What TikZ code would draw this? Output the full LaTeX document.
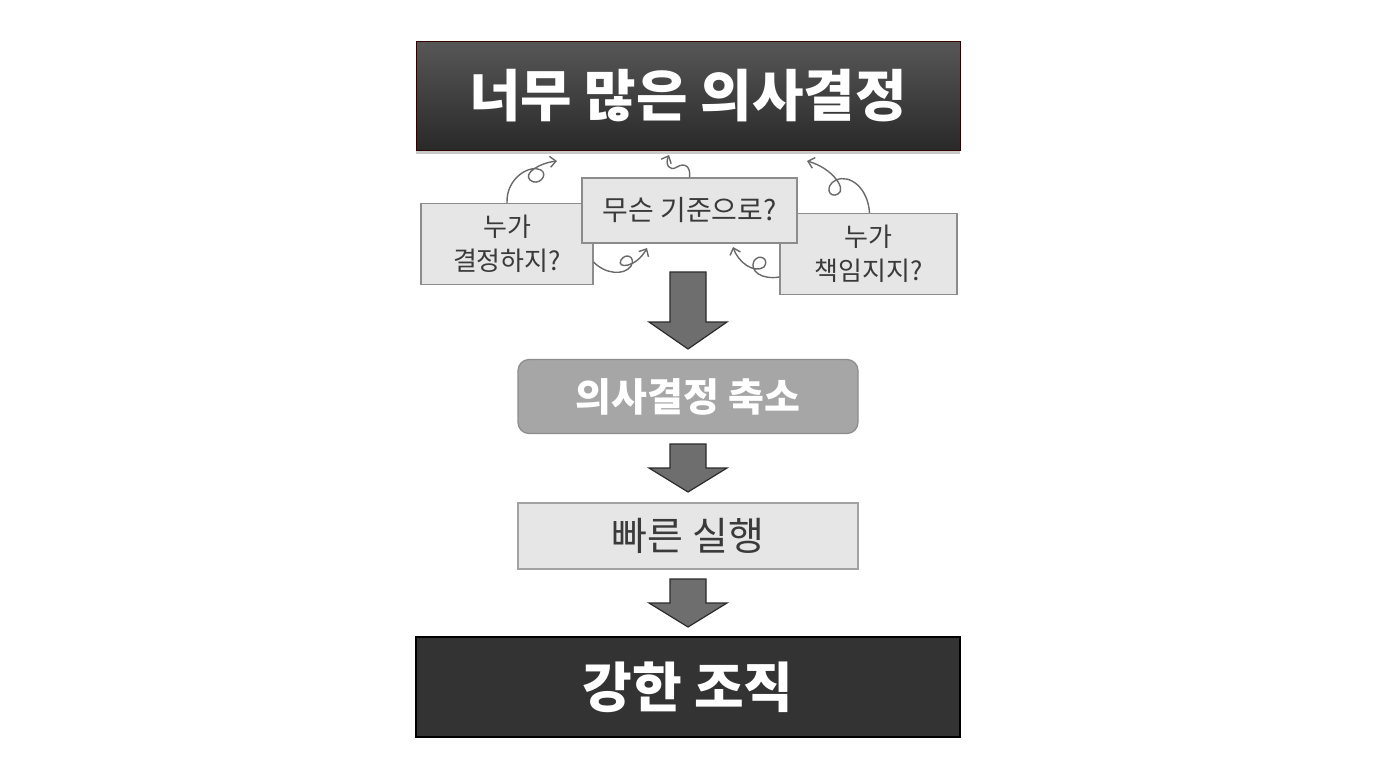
\documentclass[tikz,border=0pt]{standalone}
\usepackage{fontspec}
\newfontfamily\kr{Noto Sans CJK KR}
\usetikzlibrary{arrows.meta,shadows,calc}
\definecolor{boxfill}{HTML}{E6E6E6}
\definecolor{boxline}{HTML}{8C8C8C}
\definecolor{txt}{HTML}{3A3A3A}
\definecolor{curl}{HTML}{6A6A6A}
\definecolor{arrfill}{HTML}{6E6E6E}
\definecolor{arrline}{HTML}{2B2B2B}
\definecolor{darkbox}{HTML}{333333}
\definecolor{midbox}{HTML}{A6A6A6}
\tikzset{
  qbox/.style={draw=boxline, line width=1.2pt, fill=boxfill, text=txt, font=\kr\fontsize{26}{34}\selectfont, align=center, inner sep=0pt},
  curlarrow/.style={draw=curl, line width=1.4pt, -{Straight Barb[length=6pt,width=11pt]}},
  blockarrow/.style={fill=arrfill, draw=arrline, line width=1.2pt, line join=miter},
}
\begin{document}
\begin{tikzpicture}[x=1pt,y=-1pt]
\useasboundingbox (0,0) rectangle (1376,768);
\fill[white] (0,0) rectangle (1376,768);

% title
\node[minimum width=544pt, minimum height=109pt, inner sep=0pt,
      top color=black!66, bottom color=black!84, draw=black!70!red!60!black, line width=0.8pt,
      drop shadow={shadow xshift=0pt, shadow yshift=-3pt, opacity=0.35, fill=black!60},
      text=white, font=\kr\bfseries\fontsize{56}{60}\selectfont] (title) at (688,96) {너무 많은 의사결정};

% question boxes
\node[qbox, minimum width=172pt, minimum height=81pt] (who) at (507,244) {누가\\결정하지?};
\node[qbox, minimum width=177pt, minimum height=81pt] (resp) at (868.5,254) {누가\\책임지지?};
\node[qbox, minimum width=215pt, minimum height=65pt, font=\kr\fontsize{28}{30}\selectfont] (crit) at (689.5,210.5) {무슨 기준으로?};

% curly arrows
\coordinate (h1) at (557,161);
\coordinate (h2) at (669,155);
\coordinate (h3) at (807,161);
\coordinate (h4) at (647,248);
\coordinate (h5) at (733,247);
\draw[curlarrow] (who.north) .. controls (506,178) and (530,164) .. (541,170)
   .. controls (549,175) and (538,187) .. (530,180)
   .. controls (523,173) and (540,163) .. (h1);
\draw[curlarrow] (crit.north) .. controls (691,167) and (685,162) .. (677,167)
   .. controls (669,172) and (665,164) .. (h2);
\draw[curlarrow] ($(resp.north)+(1,0)$) .. controls (868,188) and (850,174) .. (836,180)
   .. controls (824,186) and (829,199) .. (838,194)
   .. controls (847,189) and (832,168) .. (h3);
\draw[curlarrow] ($(who.east)+(0,18)$) .. controls (605,274) and (624,276) .. (631,266)
   .. controls (636,257) and (626,252) .. (621,260)
   .. controls (616,269) and (636,268) .. (h4);
\draw[curlarrow] ($(resp.west)+(0,23)$) .. controls (762,280) and (749,271) .. (754,261)
   .. controls (759,253) and (770,259) .. (764,267)
   .. controls (754,274) and (738,262) .. (h5);

% reduce decisions
\node[minimum width=340pt, minimum height=74pt, inner sep=0pt, rounded corners=11pt,
      fill=midbox, draw=boxline, line width=1.2pt, text=white,
      font=\kr\bfseries\fontsize{39}{40}\selectfont] (reduce) at (688,396.5) {의사결정 축소};

% fast execution
\node[minimum width=340pt, minimum height=66pt, inner sep=0pt,
      fill=boxfill, draw=boxline!80, line width=1.2pt, text=txt,
      font=\kr\fontsize{39}{40}\selectfont] (exec) at (688,536) {빠른 실행};

% strong organisation
\node[minimum width=544pt, minimum height=100pt, inner sep=0pt,
      fill=darkbox, draw=black, line width=1.2pt, text=white,
      font=\kr\bfseries\fontsize{54}{56}\selectfont] (strong) at (688,687) {강한 조직};

% block arrows
\coordinate (a1) at (688,272);
\coordinate (a2) at (688,444);
\coordinate (a3) at (688,579);
\draw[blockarrow] (a1) ++(-18,0) -- ++(36,0) -- ++(0,50) -- ++(21,0) -- (688,349) -- (649,322) -- (670,322) -- cycle;
\draw[blockarrow] (a2) ++(-18,0) -- ++(36,0) -- ++(0,24) -- ++(21,0) -- (688,492) -- (649,468) -- (670,468) -- cycle;
\draw[blockarrow] (a3) ++(-18,0) -- ++(36,0) -- ++(0,24) -- ++(21,0) -- (688,627) -- (649,603) -- (670,603) -- cycle;
\end{tikzpicture}
\end{document}
